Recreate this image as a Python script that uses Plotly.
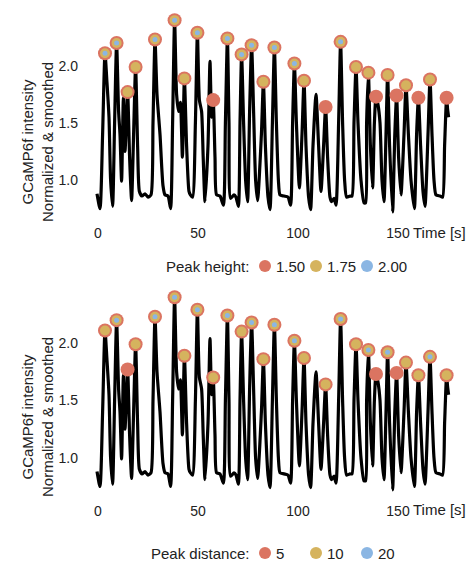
import plotly.graph_objects as go

# ---------------- data ----------------
time_s = [-0.5, 1.0, 2.3, 3.5, 4.5, 5.5, 6.3, 7.3, 8.3, 9.3, 10.3, 11.0, 11.8, 12.7, 13.5,
          14.8, 15.8, 16.8, 17.8, 18.8, 19.8, 20.7, 22.0, 23.5, 25.0, 26.5, 27.5, 28.5,
          29.5, 31.0, 32.5, 33.5, 35.0, 36.3, 37.3, 38.3, 39.3, 40.3, 41.2, 42.2, 43.2,
          44.3, 45.5, 46.2, 47.3, 48.7, 49.7, 50.7, 51.8, 52.6, 53.5, 55.0, 56.0, 56.8,
          57.6, 58.5, 59.3, 61.0, 62.7, 63.7, 64.7, 65.5, 66.3, 68.0, 69.0, 70.2, 71.0,
          71.8, 72.8, 73.8, 74.8, 75.8, 76.8, 77.8, 78.8, 79.8, 81.7, 82.7, 83.7, 85.0,
          86.0, 87.2, 88.2, 89.2, 90.2, 91.0, 93.0, 95.0, 96.3, 97.3, 98.2, 99.2, 100.7,
          102.0, 103.0, 104.0, 105.3, 106.3, 107.5, 109.0, 110.3, 111.5, 112.8, 113.8,
          114.8, 116.0, 116.8, 118.0, 119.0, 120.3, 121.3, 122.3, 123.3, 124.3, 126.0,
          127.0, 128.0, 129.0, 130.0, 131.5, 133.0, 133.8, 134.3, 135.2, 136.2, 137.3,
          138.2, 139.0, 140.0, 141.0, 142.0, 143.0, 144.0, 144.8, 145.8, 147.3, 148.4,
          149.3, 150.3, 151.5, 153.0, 154.0, 155.2, 156.5, 158.2, 159.3, 160.2, 161.3,
          162.5, 163.5, 165.0, 166.0, 167.0, 168.0, 169.0, 171.0, 172.3, 173.3, 174.3,
          174.8, 175.3]
intensity = [0.88, 0.75, 1.40, 2.11, 1.85, 1.55, 1.00, 0.77, 1.50, 2.20, 1.60, 1.40, 0.99,
             1.72, 1.25, 1.77, 1.20, 0.82, 1.40, 1.99, 1.30, 0.90, 0.86, 0.88, 0.85, 0.87,
             1.50, 2.23, 1.75, 1.40, 0.95, 0.87, 0.86, 0.75, 1.50, 2.40, 1.75, 1.60, 1.68,
             1.20, 1.89, 1.30, 0.90, 0.87, 0.85, 1.50, 2.29, 1.70, 1.60, 1.20, 0.81, 1.30,
             2.04, 1.55, 1.70, 1.20, 0.87, 0.86, 0.78, 1.50, 2.24, 1.50, 0.84, 0.87, 0.85,
             0.77, 1.50, 2.10, 1.50, 1.00, 0.81, 1.60, 2.18, 1.60, 1.00, 0.82, 1.40, 1.86,
             1.30, 0.85, 0.74, 1.50, 2.16, 1.50, 1.00, 0.87, 0.86, 0.85, 0.78, 1.50, 2.02,
             1.50, 0.93, 1.40, 1.87, 1.30, 0.85, 0.74, 1.30, 1.75, 1.30, 0.90, 1.30, 1.64,
             1.20, 0.85, 0.81, 0.84, 0.78, 1.50, 2.21, 1.50, 1.00, 0.85, 0.86, 0.86, 1.50,
             1.99, 1.50, 1.00, 0.80, 0.80, 1.50, 1.94, 1.30, 0.93, 1.50, 1.73, 1.66, 1.50,
             1.00, 0.81, 1.40, 1.92, 1.30, 0.72, 1.40, 1.74, 1.20, 0.87, 1.40, 1.83, 1.40,
             1.00, 0.75, 1.40, 1.72, 1.30, 0.90, 0.77, 1.40, 1.88, 1.40, 1.00, 0.87, 0.86,
             0.85, 1.30, 1.72, 1.62, 1.55]

peak_time = [3.5, 9.3, 14.8, 18.8, 28.5, 38.3, 43.2, 49.7, 57.6, 64.7, 71.8, 76.8, 82.7,
             88.2, 98.2, 103.0, 113.8, 121.3, 129.0, 135.2, 139.0, 144.8, 149.3, 154.0,
             160.2, 166.0, 174.3]
peak_value = [2.11, 2.20, 1.77, 1.99, 2.23, 2.40, 1.89, 2.29, 1.70, 2.24, 2.10, 2.18, 1.86,
              2.16, 2.02, 1.87, 1.64, 2.21, 1.99, 1.94, 1.73, 1.92, 1.74, 1.83, 1.72, 1.88,
              1.72]

height_levels = [1.50, 1.75, 2.00]
height_labels = ["1.50", "1.75", "2.00"]
# number of peak-distance settings (5, 10, 20) at which each peak is detected
distance_levels = [5, 10, 20]
distance_labels = ["5", "10", "20"]
distance_class = [2, 3, 1, 2, 3, 3, 2, 3, 2, 3, 2, 3, 2, 3, 3, 2, 2, 3, 2, 3, 1, 3, 1, 2,
                  2, 3, 2]

x_ticks = [0, 50, 100, 150]
y_ticks = [1.0, 1.5, 2.0]

# ---------------- styling ----------------
RED, YELLOW, BLUE = "#DB7461", "#D5B35E", "#8BB6E3"
ring_colors = [RED, YELLOW, BLUE]
ring_sizes = [14, 10, 5]
FONT = "Liberation Sans, Arial, Helvetica, sans-serif"
TXT = "#222222"

OFF = 8                      # page margin of the html body
W, H = 475 - OFF, 561 - OFF
ML, MR, MT, MB = 94 - OFF, 23, 11 - OFF, 63
PW = W - ML - MR
PH = H - MT - MB


def px_x(px):               # screenshot x -> paper x
    return (px - OFF - ML) / PW


def px_y(py):               # screenshot y -> paper y
    return (H - MB - (py - OFF)) / PH


height_class = [sum(1 for lv in height_levels if v >= lv) for v in peak_value]

fig = go.Figure()

for row, (classes, xa, ya) in enumerate([(height_class, "x", "y"),
                                          (distance_class, "x2", "y2")]):
    fig.add_trace(go.Scatter(
        x=time_s, y=intensity, mode="lines",
        line=dict(color="black", width=3.2, shape="spline", smoothing=0.6),
        xaxis=xa, yaxis=ya, showlegend=False, hoverinfo="skip"))
    for k in range(3):
        xs = [t for t, c in zip(peak_time, classes) if c >= k + 1]
        ys = [v for v, c in zip(peak_value, classes) if c >= k + 1]
        fig.add_trace(go.Scatter(
            x=xs, y=ys, mode="markers",
            marker=dict(color=ring_colors[k], size=ring_sizes[k], line=dict(width=0)),
            xaxis=xa, yaxis=ya, showlegend=False, cliponaxis=False))

axis_common = dict(showgrid=False, zeroline=False, showline=False, ticks="",
                   tickfont=dict(family=FONT, size=14, color=TXT))
xr = [-2, 177]
yr = [0.65, 2.48]
top_dom = [px_y(220), 1.0]
bot_dom = [0.0, px_y(288)]

fig.update_layout(
    width=W, height=H,
    margin=dict(l=ML, r=MR, t=MT, b=MB),
    paper_bgcolor="white", plot_bgcolor="white",
    font=dict(family=FONT, size=15, color=TXT),
    xaxis=dict(domain=[0, 1], range=xr, tickvals=x_ticks, anchor="y",
               ticklabelstandoff=3, **axis_common),
    yaxis=dict(domain=top_dom, range=yr, tickvals=y_ticks, tickformat=".1f",
               anchor="x", ticklabelstandoff=15, **axis_common),
    xaxis2=dict(domain=[0, 1], range=xr, tickvals=x_ticks, anchor="y2",
                ticklabelstandoff=3, **axis_common),
    yaxis2=dict(domain=bot_dom, range=yr, tickvals=y_ticks, tickformat=".1f",
                anchor="x2", ticklabelstandoff=15, **axis_common),
    showlegend=False,
)

annotations = []
shapes = []
for (title, labels, tick_y, title_y, leg_y) in [
        ("Peak height:", height_labels, 232, 142, 266),
        ("Peak distance:", distance_labels, 510, 417, 553)]:
    annotations.append(dict(
        text="GCaMP6f intensity<br>Normalized & smoothed", textangle=-90,
        xref="paper", yref="paper", x=px_x(37), y=px_y(title_y),
        xanchor="center", yanchor="middle", showarrow=False,
        font=dict(family=FONT, size=15, color=TXT)))
    annotations.append(dict(
        text="Time [s]", xref="paper", yref="paper", x=px_x(411), y=px_y(tick_y),
        xanchor="left", yanchor="middle", showarrow=False,
        font=dict(family=FONT, size=15, color=TXT)))
    annotations.append(dict(
        text=title, xref="paper", yref="paper", x=px_x(251), y=px_y(leg_y),
        xanchor="right", yanchor="middle", showarrow=False,
        font=dict(family=FONT, size=15, color=TXT)))
    for k, lab in enumerate(labels):
        cx = 265 + 51 * k
        shapes.append(dict(
            type="circle", xref="paper", yref="paper",
            xsizemode="pixel", ysizemode="pixel",
            xanchor=px_x(cx), yanchor=px_y(leg_y),
            x0=-6, x1=6, y0=-6, y1=6,
            fillcolor=ring_colors[k], line=dict(width=0)))
        annotations.append(dict(
            text=lab, xref="paper", yref="paper", x=px_x(cx + 9), y=px_y(leg_y),
            xanchor="left", yanchor="middle", showarrow=False,
            font=dict(family=FONT, size=15, color=TXT)))

fig.update_layout(annotations=annotations, shapes=shapes)

fig.write_html("out.html")
